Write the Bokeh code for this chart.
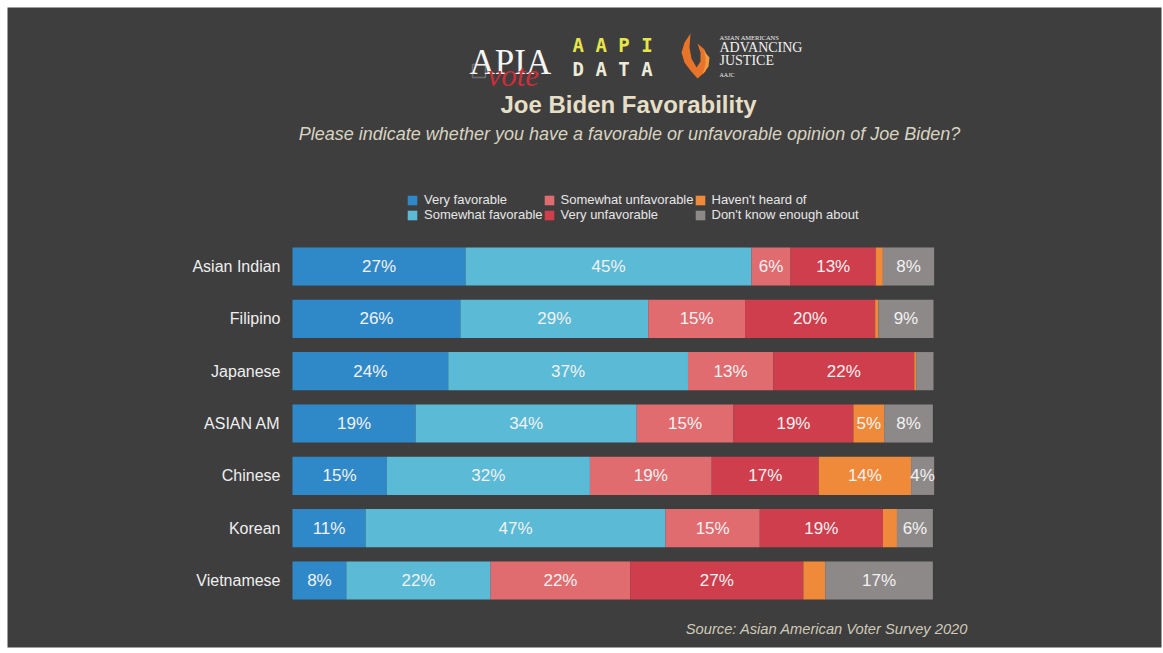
from bokeh.plotting import figure
from bokeh.models import (Range1d, Label, Legend, LegendItem,
                          ColumnDataSource, PolyAnnotation)
from bokeh.embed import file_html
from bokeh.resources import INLINE
from bokeh.core.properties import value

# ---------------- data ----------------
categories = ["Asian Indian", "Filipino", "Japanese", "ASIAN AM",
              "Chinese", "Korean", "Vietnamese"]
series_names = ["Very favorable", "Somewhat favorable", "Somewhat unfavorable",
                "Very unfavorable", "Haven't heard of", "Don't know enough about"]
very_favorable = [27.0, 26.2, 24.3, 19.2, 14.7, 11.4, 8.4]
somewhat_favorable = [44.6, 29.3, 37.4, 34.5, 31.7, 46.8, 22.5]
somewhat_unfavorable = [6.1, 15.1, 13.3, 15.1, 19.0, 14.7, 21.8]
very_unfavorable = [13.3, 20.3, 22.0, 18.7, 16.7, 19.2, 27.0]
havent_heard = [1.1, 0.5, 0.3, 4.8, 14.4, 2.2, 3.4]
dont_know = [8.0, 8.6, 2.7, 7.6, 3.6, 5.6, 16.8]

series = [very_favorable, somewhat_favorable, somewhat_unfavorable,
          very_unfavorable, havent_heard, dont_know]
keys = ["vf", "sf", "su", "vu", "hh", "dk"]
colors = ["#2f89c9", "#5bbad6", "#e06c70", "#cf3e4d", "#ee8a3a", "#8d8989"]

BG = "#3e3e3e"
FONT = "Liberation Sans"
SERIF = "Liberation Serif"

# ---------------- layout (page pixels) ----------------
W, H = 1162, 648
F_L, F_T, F_R, F_B = 7, 7, 1161, 647          # dark frame
BAR_X0, BAR_X1 = 292, 933                       # 0% .. 100%
ROW0_Y, ROW_DY = 266, 52.33                      # first row centre, row pitch
sx = (BAR_X1 - BAR_X0) / 100.0

x_range = Range1d((F_L - BAR_X0) / sx, (F_R - BAR_X0) / sx)
y_range = Range1d((F_B - ROW0_Y) / ROW_DY, (F_T - ROW0_Y) / ROW_DY)

p = figure(width=W, height=H, x_range=x_range, y_range=y_range,
           output_backend="svg", toolbar_location=None,
           min_border_left=F_L, min_border_top=F_T,
           min_border_right=W - F_R, min_border_bottom=H - F_B)
p.background_fill_color = BG
p.border_fill_color = "white"
p.outline_line_color = None
p.grid.visible = False
p.axis.visible = False

rows = list(range(len(categories)))
data = {"row": rows, "cat": categories}
for k, s in zip(keys, series):
    data[k] = s
src = ColumnDataSource(data)
renderers = p.hbar_stack(keys, y="row", height=0.73, color=colors,
                         line_color=None, source=src)

# category labels
p.text(x=0, y="row", text="cat", source=src, x_offset=-12,
       text_align="right", text_baseline="middle", text_color="#efefef",
       text_font=value(FONT), text_font_size="16px")

# segment labels
lx, ly, lt = [], [], []
for i in rows:
    cum = 0.0
    for s in series:
        v = s[i]
        if v >= 3.5:
            lx.append(cum + v / 2.0)
            ly.append(i)
            lt.append(f"{round(v)}%")
        cum += v
p.text(x="x", y="y", text="t",
       source=ColumnDataSource(dict(x=lx, y=ly, t=lt)),
       text_align="center", text_baseline="middle",
       text_color="#f2f2f2", text_font=value(FONT), text_font_size="17px")

# legend
items = [LegendItem(label=n, renderers=[r]) for n, r in zip(series_names, renderers)]
legend = Legend(items=items, location=(406 - F_L, F_B - 222), orientation="vertical",
                nrows=2, glyph_width=12, glyph_height=12, label_standoff=6, spacing=0,
                padding=0, margin=0, label_height=12, label_text_font_size="13px",
                label_text_color="#e6e6e6", label_text_font=FONT,
                background_fill_alpha=0, border_line_color=None)
p.add_layout(legend)


def dx(px):
    return (px - BAR_X0) / sx


def dy(py):
    return (py - ROW0_Y) / ROW_DY


def lab(text, px, py, size, color, align="left", style="normal", font=FONT,
        baseline="middle"):
    p.add_layout(Label(x=dx(px), y=dy(py), text=text, text_align=align,
                       text_baseline=baseline, text_font_size=size,
                       text_color=color, text_font_style=style, text_font=font))


def poly(pts, fill, line=None, alpha=1.0):
    p.add_layout(PolyAnnotation(xs=[dx(x) for x, _ in pts], ys=[dy(y) for _, y in pts],
                                fill_color=fill, fill_alpha=alpha,
                                line_color=line, line_width=1.5))


# titles
lab("Joe Biden Favorability", 628, 104, "24px", "#e6dfc6", align="center", style="bold")
lab("Please indicate whether you have a favorable or unfavorable opinion of Joe Biden?",
    629, 133, "18px", "#d9d4c0", align="center", style="italic")
lab("Source: Asian American Voter Survey 2020", 968, 628, "14.7px", "#cfcab8",
    align="right", style="italic")

# logos
lab("APIA", 469, 62, "35px", "#f5f5f5", font=SERIF, baseline="alphabetic")
poly([(472, 64), (485, 64), (485, 77), (472, 77)], None, line="#dcdcdc")
lab("vote", 487, 75, "31px", "#cc2f3a", style="italic", font=SERIF, baseline="alphabetic")
lab("A A P I", 572, 44, "19px", "#e6e64a", style="bold", font="DejaVu Sans Mono")
lab("D A T A", 572, 68, "19px", "#ecebd8", style="bold", font="DejaVu Sans Mono")
poly([(690, 33), (684, 42), (681, 52), (684, 62), (690, 70), (697, 78), (705, 71),
      (708, 60), (704, 49), (697, 43), (700, 52), (700, 61), (696, 67), (691, 58),
      (689, 47)], "#e8742a")
poly([(703, 50), (709, 57), (708, 66), (702, 74), (705, 64), (705, 57)], "#f29a3f")
lab("ASIAN AMERICANS", 719, 37, "6.5px", "#f0f0f0", font=SERIF)
lab("ADVANCING", 719, 47, "14px", "#f0f0f0", font=SERIF)
lab("JUSTICE", 719, 60, "14px", "#f0f0f0", font=SERIF)
lab("AAJC", 719, 74, "6px", "#f0f0f0", font=SERIF)

open("out.html", "w").write(file_html(p, INLINE))
